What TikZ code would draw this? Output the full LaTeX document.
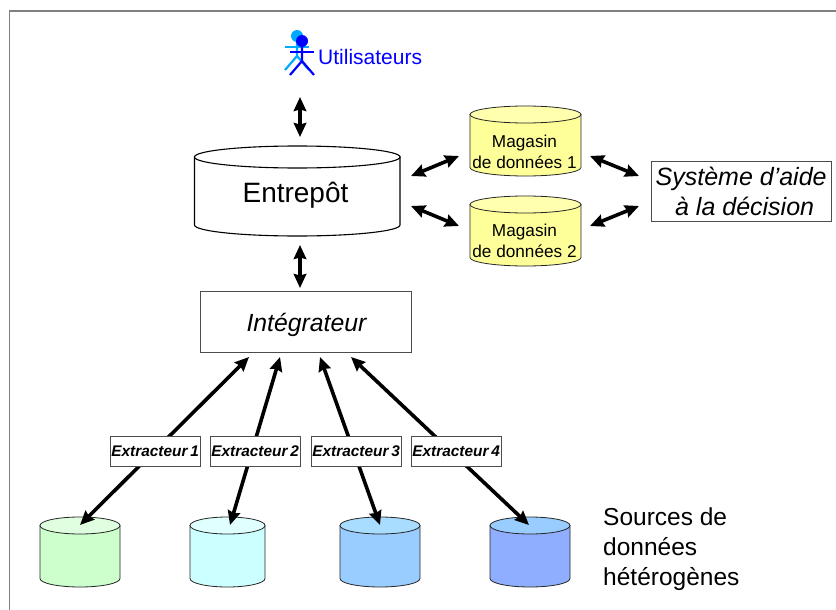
\documentclass[tikz,border=0pt]{standalone}
\usepackage{fontspec}
\setmainfont{Liberation Sans}
\usetikzlibrary{arrows.meta}
\definecolor{yellowdb}{HTML}{FFFF99}
\definecolor{yellowtop}{HTML}{FFFFAD}
\definecolor{greendb}{HTML}{CCFFCC}
\definecolor{greentop}{HTML}{E0FFE0}
\definecolor{cyandb}{HTML}{CCFFFF}
\definecolor{cyantop}{HTML}{E0FFFF}
\definecolor{bluedb}{HTML}{99CCFF}
\definecolor{bluetop}{HTML}{A8DDFF}
\definecolor{deepdb}{HTML}{8FAEFF}
\definecolor{deeptop}{HTML}{99CCFF}
\definecolor{userdark}{HTML}{0000FF}
\definecolor{userlight}{HTML}{00AAFF}
\tikzset{
  x=1pt,y=-1pt,
  dbl/.style={line width=3.6pt,black,{Stealth[length=14pt,width=12.5pt,inset=1.5pt]}-{Stealth[length=14pt,width=12.5pt,inset=1.5pt]}},
  cyledge/.style={draw=black!85,line width=0.8pt},
  bigedge/.style={draw=black,line width=1.1pt},
  boxed/.style={draw=black!70,fill=white,line width=0.8pt,inner sep=0pt,align=center,anchor=north west},
  extr/.style={boxed,minimum width=90.5pt,minimum height=30pt,font=\fontsize{15.4}{17}\selectfont\bfseries\itshape},
  lbl/.style={inner sep=0pt,align=center},
  stick/.style={line width=2.2pt},
}
% style, name, x-left, x-right, y of top ellipse centre, y of bottom ellipse centre, ry, body colour, top colour
\newcommand{\cylinderdb}[9]{%
  \path[#1,fill=#8] (#3,#5) -- (#3,#6)
     arc[start angle=180,end angle=360,x radius={(#4-#3)/2*1pt},y radius=#7pt]
     -- (#4,#5) -- cycle;
  \path[#1,fill=#9] ({(#3+#4)/2},#5) ellipse[x radius={(#4-#3)/2*1pt},y radius=#7pt];
  \node[inner sep=0pt,minimum size=1pt] (#2) at ({(#3+#4)/2},#5) {};
}
\newcommand{\stickman}[3]{% x, y of head centre, colour
  \fill[#3] (#1,#2) circle[radius=6pt];
  \draw[stick,#3] (#1-12,#2+11) -- (#1+12,#2+11);
  \draw[stick,#3] (#1,#2+5) -- (#1,#2+20) -- (#1-12,#2+34);
  \draw[stick,#3] (#1,#2+20) -- (#1+12,#2+34);
}
\begin{document}
\begin{tikzpicture}
\useasboundingbox (0,0) rectangle (836,610);
\fill[white] (0,0) rectangle (836,610);
\coordinate (fa) at (9.5,610);
\coordinate (fb) at (9.5,11);
\coordinate (fc) at (836,11);
\draw[black!50,line width=1.2pt] (fa) -- (fb) -- (fc);

% user
\stickman{297}{36}{userlight}
\stickman{302}{41}{userdark}
\node[lbl,anchor=west,text=userdark,font=\fontsize{21}{24}\selectfont] (users) at (318,57) {Utilisateurs};

% warehouse and data marts
\cylinderdb{bigedge}{entrepot}{194.5}{400}{157}{225}{11}{white}{white}
\node[lbl,anchor=base,font=\fontsize{28}{32}\selectfont] (entlabel) at (295.5,202) {Entrepôt};
\cylinderdb{cyledge}{mag1}{470}{581}{114.5}{167.5}{8.5}{yellowdb}{yellowtop}
\node[lbl,font=\fontsize{17.2}{21}\selectfont] (mag1label) at (524.5,152) {Magasin\\de données 1};
\cylinderdb{cyledge}{mag2}{470}{581}{204.5}{257.5}{8.5}{yellowdb}{yellowtop}
\node[lbl,font=\fontsize{17.2}{21}\selectfont] (mag2label) at (524.5,241) {Magasin\\de données 2};
\node[boxed,minimum width=180.5pt,minimum height=60pt,font=\fontsize{25}{30}\selectfont\itshape] (systeme) at (650.5,161) {Système d’aide\\\hspace*{7pt}à la décision};
\node[boxed,minimum width=211pt,minimum height=60.5pt] (integ) at (200,291) {};
\node[lbl,anchor=base,font=\fontsize{24.8}{30}\selectfont\itshape] (integlabel) at (306.5,331) {Intégrateur};

% sources
\cylinderdb{cyledge}{src1}{40}{120}{525.5}{578.5}{8.5}{greendb}{greentop}
\cylinderdb{cyledge}{src2}{190}{265}{525.5}{578.5}{8.5}{cyandb}{cyantop}
\cylinderdb{cyledge}{src3}{340}{420}{525.5}{578.5}{8.5}{bluedb}{bluetop}
\cylinderdb{cyledge}{src4}{490}{570}{525.5}{578.5}{8.5}{deepdb}{deeptop}
\node[lbl,anchor=north west,align=left,font=\fontsize{24.5}{30}\selectfont] (srclabel) at (603,508) {Sources de\\données\\hétérogènes};

% connector end points
\coordinate (u1) at (300,97);   \coordinate (u2) at (300,137);
\coordinate (i1) at (300,245);  \coordinate (i2) at (300,288);
\coordinate (e1) at (411,176);  \coordinate (m1a) at (459,156);
\coordinate (e2) at (411,206);  \coordinate (m2a) at (459,226);
\coordinate (m1b) at (590,156); \coordinate (s1) at (639,176);
\coordinate (m2b) at (590,226); \coordinate (s2) at (639,206);
\coordinate (g1) at (249,357);  \coordinate (d1) at (80,525);
\coordinate (g2) at (280,357);  \coordinate (d2) at (230,525);
\coordinate (g3) at (320,357);  \coordinate (d3) at (380,525);
\coordinate (g4) at (351,357);  \coordinate (d4) at (529,525);

\draw[dbl] (u1) -- (u2);
\draw[dbl] (i1) -- (i2);
\draw[dbl] (e1) -- (m1a);
\draw[dbl] (e2) -- (m2a);
\draw[dbl] (m1b) -- (s1);
\draw[dbl] (m2b) -- (s2);
\draw[dbl] (g1) -- (d1);
\draw[dbl] (g2) -- (d2);
\draw[dbl] (g3) -- (d3);
\draw[dbl] (g4) -- (d4);

% extractors
\node[extr] (x1) at (109.5,436) {Extracteur\hspace{-1.5pt} 1};
\node[extr] (x2) at (209.5,436) {Extracteur\hspace{-1.5pt} 2};
\node[extr] (x3) at (310.5,436) {Extracteur\hspace{-1.5pt} 3};
\node[extr] (x4) at (410.5,436) {Extracteur\hspace{-1.5pt} 4};
\end{tikzpicture}
\end{document}
